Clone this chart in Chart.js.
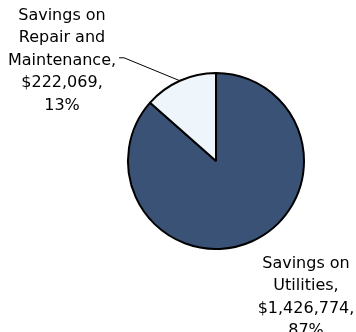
<!DOCTYPE html>
<html>
<head>
<meta charset="utf-8">
<script src="https://cdn.jsdelivr.net/npm/chart.js@4/dist/chart.umd.min.js"></script>
<style>
  html, body { margin: 0; padding: 0; background: #ffffff; }
  #wrap { width: 356px; height: 332px; }
</style>
</head>
<body>
<div id="wrap"><canvas id="c" width="356" height="332"></canvas></div>
<script>
// Savings breakdown
const categories = ['Savings on Utilities', 'Savings on Repair and Maintenance'];
const savings = [1426774, 222069];
const percentLabels = ['87%', '13%'];
const labelLines = [
  ['Savings on', 'Utilities,', '$1,426,774,', '87%'],
  ['Savings on', 'Repair and', 'Maintenance,', '$222,069,', '13%']
];
const sliceColors = ['#3b5277', '#eef6fb'];

// Where each label block sits, relative to the pie centre
const labelLayout = [
  { dx: 90, dy: 107, leader: false },
  { dx: -154, dy: -141, leader: true }
];
const LINE_H = 22.4;
const FONT = '16px "DejaVu Sans", Verdana, sans-serif';

const pieLabels = {
  id: 'pieLabels',
  afterDatasetsDraw(chart) {
    const ctx = chart.ctx;
    const meta = chart.getDatasetMeta(0);
    ctx.save();
    ctx.font = FONT;
    ctx.fillStyle = '#000000';
    ctx.textAlign = 'center';
    ctx.textBaseline = 'alphabetic';
    meta.data.forEach((arc, i) => {
      const p = arc.getProps(['x', 'y', 'startAngle', 'endAngle', 'outerRadius'], true);
      const lay = labelLayout[i];
      const lines = labelLines[i];
      const lx = p.x + lay.dx;
      const ly = p.y + lay.dy;
      lines.forEach((t, k) => ctx.fillText(t, lx, ly + k * LINE_H));
      if (lay.leader) {
        // leader from the end of the third line to the slice edge
        const w = ctx.measureText(lines[2]).width;
        const sx = lx + w / 2 + 3;
        const sy = ly + 2 * LINE_H - 7;
        const mid = (p.startAngle + p.endAngle) / 2;
        const ex = p.x + Math.cos(mid) * p.outerRadius;
        const ey = p.y + Math.sin(mid) * p.outerRadius;
        ctx.beginPath();
        ctx.strokeStyle = '#000000';
        ctx.lineWidth = 1;
        ctx.moveTo(sx, sy);
        ctx.lineTo(sx + 5, sy);
        ctx.lineTo(ex, ey);
        ctx.stroke();
      }
    });
    ctx.restore();
  }
};

new Chart(document.getElementById('c'), {
  type: 'pie',
  data: {
    labels: categories,
    datasets: [{
      data: savings,
      backgroundColor: sliceColors,
      borderColor: '#000000',
      borderWidth: 2
    }]
  },
  options: {
    responsive: false,
    animation: false,
    radius: 88,
    layout: { padding: { left: 128, right: 52, top: 73, bottom: 83 } },
    plugins: {
      legend: { display: false },
      tooltip: { enabled: false }
    }
  },
  plugins: [pieLabels]
});
</script>
</body>
</html>
